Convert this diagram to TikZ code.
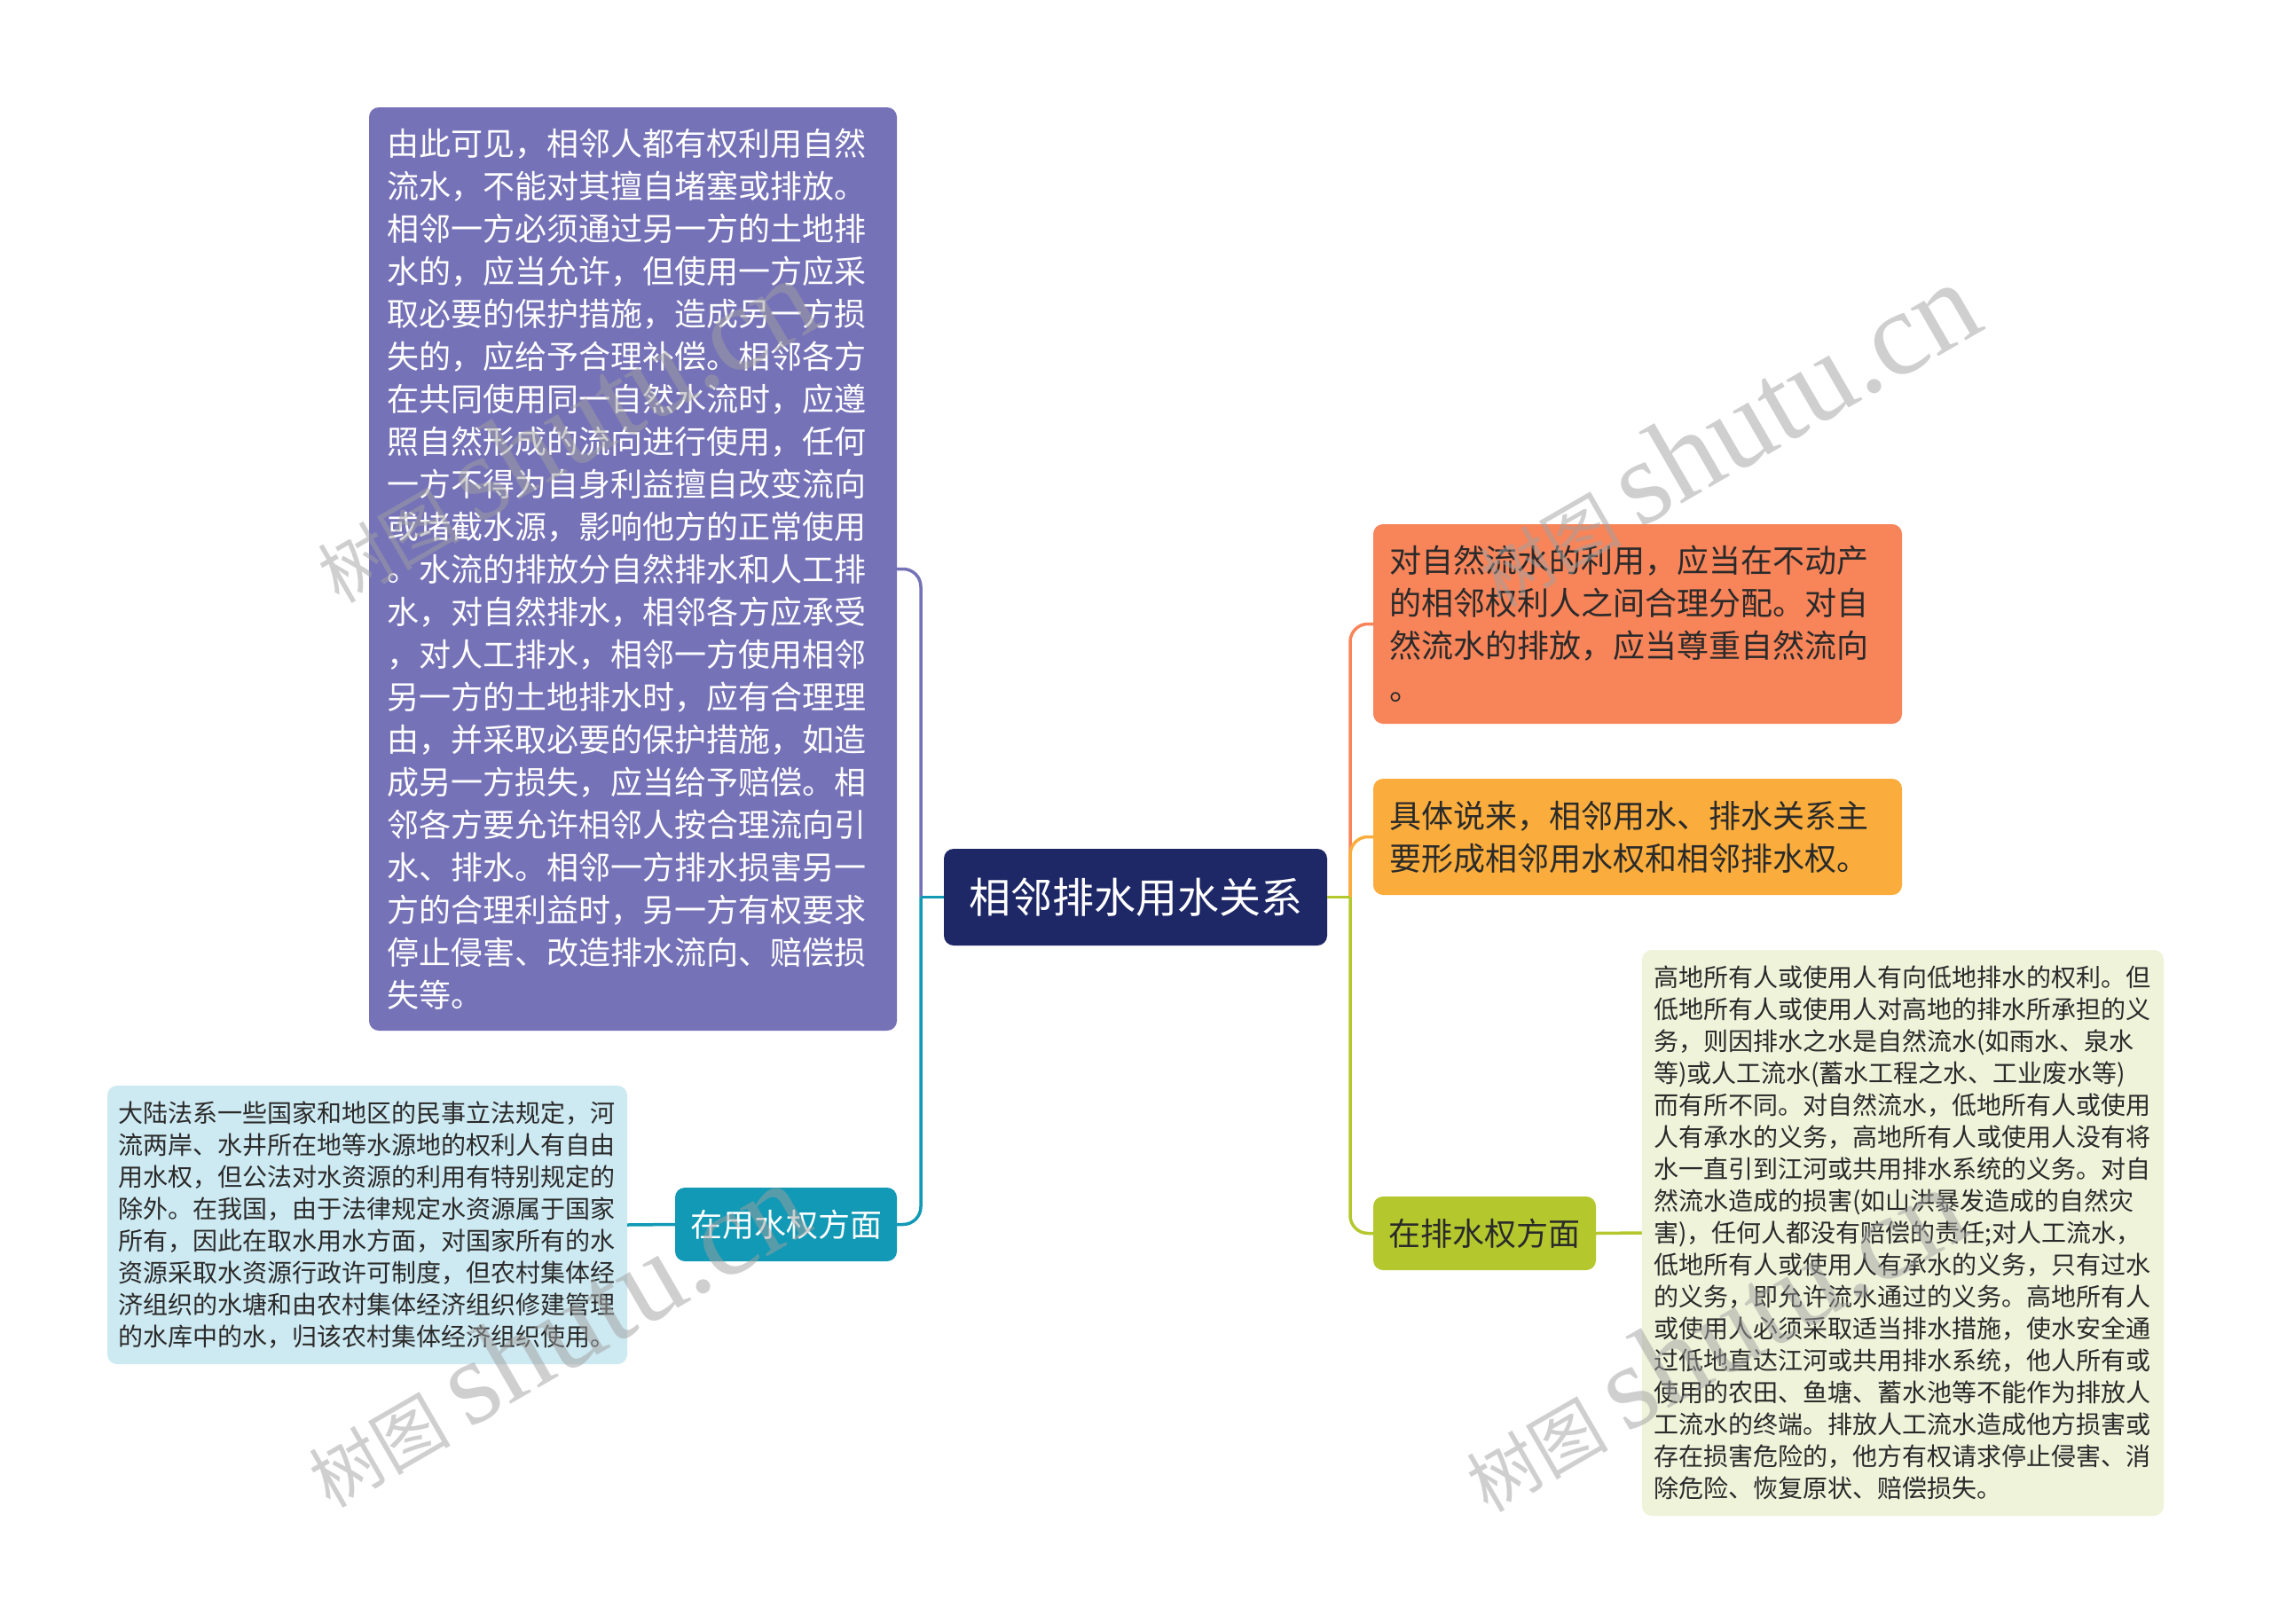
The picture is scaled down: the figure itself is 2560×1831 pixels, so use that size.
\documentclass[tikz,border=0pt]{standalone}
\usepackage{fontspec}
\setmainfont{Noto Sans CJK SC}
\newfontfamily\wmserif{Liberation Serif}
\definecolor{rootc}{HTML}{1F2866}
\definecolor{purplec}{HTML}{7672B8}
\definecolor{lbluec}{HTML}{CDE9F1}
\definecolor{tealc}{HTML}{1199B5}
\definecolor{orangec}{HTML}{F8845A}
\definecolor{yellowc}{HTML}{FAAD3C}
\definecolor{greenc}{HTML}{B4C82E}
\definecolor{lgreenc}{HTML}{EFF3DA}
\definecolor{darktext}{HTML}{2A2A2A}
\definecolor{wmc}{HTML}{A0A0A0}
\tikzset{
  box/.style={rectangle, rounded corners=11pt, inner sep=0pt, align=left, anchor=center},
  conn/.style={line width=3.5pt, rounded corners=20pt},
  wm/.style={rotate=30, text=wmc, opacity=0.5, anchor=center, inner sep=0pt}
}
\begin{document}
\begin{tikzpicture}[x=1pt,y=-1pt]
\path[use as bounding box, fill=white] (0,0) rectangle (2560,1831);

% root
\node[box, fill=rootc, text=white, minimum width=432pt, minimum height=109pt,
  font=\fontsize{47}{56}\selectfont] (root) at (1280,1011.5) {相邻排水用水关系};

% left side
\node[box, fill=purplec, text=white, minimum width=595pt, minimum height=1041pt,
  text width=555pt, font=\fontsize{36}{48}\selectfont] (purple) at (713.5,641.5)
{由此可见，相邻人都有权利用自然\\
流水，不能对其擅自堵塞或排放。\\
相邻一方必须通过另一方的土地排\\
水的，应当允许，但使用一方应采\\
取必要的保护措施，造成另一方损\\
失的，应给予合理补偿。相邻各方\\
在共同使用同一自然水流时，应遵\\
照自然形成的流向进行使用，任何\\
一方不得为自身利益擅自改变流向\\
或堵截水源，影响他方的正常使用\\
。水流的排放分自然排水和人工排\\
水，对自然排水，相邻各方应承受\\
，对人工排水，相邻一方使用相邻\\
另一方的土地排水时，应有合理理\\
由，并采取必要的保护措施，如造\\
成另一方损失，应当给予赔偿。相\\
邻各方要允许相邻人按合理流向引\\
水、排水。相邻一方排水损害另一\\
方的合理利益时，另一方有权要求\\
停止侵害、改造排水流向、赔偿损\\
失等。};

\node[box, fill=tealc, text=white, minimum width=250pt, minimum height=83pt,
  font=\fontsize{36}{44}\selectfont] (teal) at (886,1380.5) {在用水权方面};

\node[box, fill=lbluec, text=darktext, minimum width=586pt, minimum height=314pt,
  text width=562pt, font=\fontsize{28}{36}\selectfont] (lblue) at (414,1381)
{大陆法系一些国家和地区的民事立法规定，河\\
流两岸、水井所在地等水源地的权利人有自由\\
用水权，但公法对水资源的利用有特别规定的\\
除外。在我国，由于法律规定水资源属于国家\\
所有，因此在取水用水方面，对国家所有的水\\
资源采取水资源行政许可制度，但农村集体经\\
济组织的水塘和由农村集体经济组织修建管理\\
的水库中的水，归该农村集体经济组织使用。};

% right side
\node[box, fill=orangec, text=darktext, minimum width=596pt, minimum height=225pt,
  text width=560pt, font=\fontsize{36}{48}\selectfont] (orange) at (1846,703.5)
{对自然流水的利用，应当在不动产\\
的相邻权利人之间合理分配。对自\\
然流水的排放，应当尊重自然流向\\
。};

\node[box, fill=yellowc, text=darktext, minimum width=596pt, minimum height=131pt,
  text width=560pt, font=\fontsize{36}{48}\selectfont] (yellow) at (1846,943.5)
{具体说来，相邻用水、排水关系主\\
要形成相邻用水权和相邻排水权。};

\node[box, fill=greenc, text=darktext, minimum width=251pt, minimum height=83pt,
  font=\fontsize{36}{44}\selectfont] (green) at (1673.5,1390.5) {在排水权方面};

\node[box, fill=lgreenc, text=darktext, minimum width=588pt, minimum height=638pt,
  text width=562pt, font=\fontsize{28}{36}\selectfont] (lgreen) at (2145,1390)
{高地所有人或使用人有向低地排水的权利。但\\
低地所有人或使用人对高地的排水所承担的义\\
务，则因排水之水是自然流水(如雨水、泉水\\
等)或人工流水(蓄水工程之水、工业废水等)\\
而有所不同。对自然流水，低地所有人或使用\\
人有承水的义务，高地所有人或使用人没有将\\
水一直引到江河或共用排水系统的义务。对自\\
然流水造成的损害(如山洪暴发造成的自然灾\\
害)，任何人都没有赔偿的责任;对人工流水，\\
低地所有人或使用人有承水的义务，只有过水\\
的义务，即允许流水通过的义务。高地所有人\\
或使用人必须采取适当排水措施，使水安全通\\
过低地直达江河或共用排水系统，他人所有或\\
使用的农田、鱼塘、蓄水池等不能作为排放人\\
工流水的终端。排放人工流水造成他方损害或\\
存在损害危险的，他方有权请求停止侵害、消\\
除危险、恢复原状、赔偿损失。};

% junctions
\coordinate (jl) at (1038,1011.5);
\coordinate (jr) at (1522,1011.5);

% connectors left
\draw[conn, draw=purplec] (jl) |- (purple.east);
\draw[conn, draw=tealc] (jl) |- (teal.east);
\draw[line width=3.5pt, draw=tealc] (root.west) -- (jl);
\draw[line width=3.5pt, draw=tealc] (teal.west) -- (lblue.east);

% connectors right
\draw[conn, draw=orangec] (jr) |- (orange.west);
\draw[conn, draw=yellowc] (jr) |- (yellow.west);
\draw[conn, draw=greenc] (jr) |- (green.west);
\draw[line width=3.5pt, draw=greenc] (root.east) -- (jr);
\draw[line width=3.5pt, draw=greenc] (green.east) -- (lgreen.west);

% watermarks
\foreach \n/\p in {wa/{(635,485)}, wb/{(1945,490)}, wc/{(625,1505)}, wd/{(1930,1510)}}{
  \node[wm] (\n) at \p {\fontsize{80}{90}\selectfont 树图\hspace{20pt}{\wmserif\fontsize{135}{140}\selectfont shutu.cn}};
}
\end{tikzpicture}
\end{document}
